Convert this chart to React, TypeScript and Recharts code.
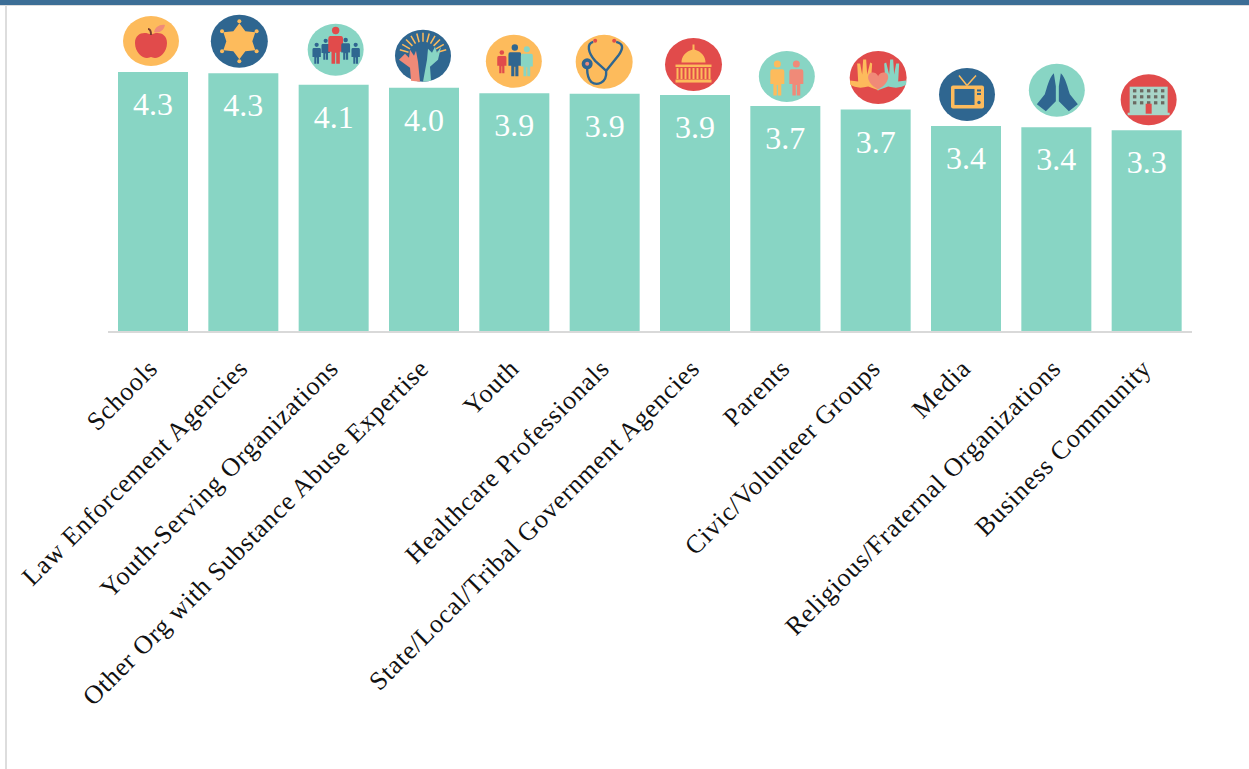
import { Bar, BarChart, LabelList, XAxis, YAxis } from "recharts";

const categories = [
  "Schools",
  "Law Enforcement Agencies",
  "Youth-Serving Organizations",
  "Other Org with Substance Abuse Expertise",
  "Youth",
  "Healthcare Professionals",
  "State/Local/Tribal Government Agencies",
  "Parents",
  "Civic/Volunteer Groups",
  "Media",
  "Religious/Fraternal Organizations",
  "Business Community",
];
const scores = [4.29, 4.27, 4.08, 4.03, 3.94, 3.93, 3.91, 3.73, 3.67, 3.4, 3.38, 3.33];

const rows = categories.map((name, i) => ({ name, score: scores[i] }));

const BLUE = "#2f6690";
const TEAL = "#88d5c4";
const ORANGE = "#fdbb5c";
const RED = "#e14b4b";
const SALMON = "#f08a78";
const FONT = "'Liberation Serif', serif";

/** Simple standing figure, feet at y, h tall. */
function Person({ x, y, h, fill }: { x: number; y: number; h: number; fill: string }) {
  const s = h / 40;
  return (
    <g transform={`translate(${x} ${y}) scale(${s})`} fill={fill}>
      <circle cx={0} cy={-36} r={4} />
      <path d="M-6,-30 H6 Q8,-30 8,-27 V-13 H4.5 V0 H0.6 V-12 H-0.6 V0 H-4.5 V-13 H-8 V-27 Q-8,-30 -6,-30 Z" />
    </g>
  );
}

function Apple() {
  return (
    <g>
      <ellipse rx={28} ry={25} fill={ORANGE} />
      <path d="M0,-6 C-6,-10 -16,-8 -16,2 C-16,11 -9,17 -4,17 C-2,17 -1,16 0,16 C1,16 2,17 4,17 C9,17 16,11 16,2 C16,-8 6,-10 0,-6 Z" fill={RED} />
      <path d="M0,-6 C0,-9 -1,-12 -3,-12" stroke="#7a3b2e" strokeWidth={2} fill="none" />
      <path d="M3,-9 C4,-14 9,-17 14,-16 C13,-11 8,-7 3,-9 Z" fill={SALMON} />
    </g>
  );
}

function Star() {
  const tips = [[0, -20], [17.3, -10], [17.3, 10], [0, 20], [-17.3, 10], [-17.3, -10]];
  return (
    <g>
      <ellipse rx={28.5} ry={26.5} fill={BLUE} />
      <polygon
        points="0,-18 6,-10 16,-9 13,0 16,9 6,10 0,18 -6,10 -16,9 -13,0 -16,-9 -6,-10"
        fill={ORANGE}
      />
      {tips.map(([x, y], i) => (
        <circle key={i} cx={x} cy={y} r={2} fill={ORANGE} />
      ))}
    </g>
  );
}

function Crowd() {
  return (
    <g>
      <ellipse rx={28} ry={26} fill={TEAL} />
      <Person x={-19} y={14} h={21} fill={BLUE} />
      <Person x={-10} y={10} h={21} fill={BLUE} />
      <Person x={0} y={14} h={37} fill={RED} />
      <Person x={10} y={10} h={22} fill={BLUE} />
      <Person x={20} y={14} h={21} fill={BLUE} />
    </g>
  );
}

function SunHands() {
  const rays = [-165, -150, -135, -120, -105, -90, -75, -60, -45, -30, -15];
  return (
    <g>
      <ellipse rx={28} ry={26} fill={BLUE} />
      {rays.map((a) => {
        const c = Math.cos((a * Math.PI) / 180);
        const n = Math.sin((a * Math.PI) / 180);
        return <line key={a} x1={c * 15} y1={n * 14} x2={c * 24} y2={n * 23} stroke={ORANGE} strokeWidth={1.5} />;
      })}
      <path d="M-24,4 L-18,-2 L-14,2 L-13,-6 L-9,0 L-7,-5 L-5,6 L-3,26 L-12,25 L-13,12 Z" fill={SALMON} />
      <path d="M18,-9 L14,-3 L12,-9 L9,-3 L5,-7 L4,4 L0,26 L8,25 L7,11 L15,4 Z" fill={TEAL} />
    </g>
  );
}

function Family() {
  return (
    <g>
      <ellipse rx={28} ry={26.5} fill={ORANGE} />
      <Person x={-12} y={12} h={23} fill={RED} />
      <Person x={1} y={15} h={32} fill={BLUE} />
      <Person x={13} y={15} h={30} fill={TEAL} />
    </g>
  );
}

function Stethoscope() {
  return (
    <g>
      <ellipse rx={28.5} ry={27} fill={ORANGE} />
      <path
        d="M-11,-20 C-18,-18 -16,-9 -9,-1 L2,9 L14,-6 C19,-13 20,-18 12,-20 M2,9 C3,22 -8,24 -13,20 C-17,16 -17,11 -17,7"
        fill="none"
        stroke={BLUE}
        strokeWidth={2.4}
      />
      <circle cx={-17} cy={2} r={5.5} fill={BLUE} />
      <circle cx={-17} cy={2} r={2} fill={SALMON} />
      <circle cx={-9} cy={-21} r={2} fill={RED} />
      <circle cx={10} cy={-21} r={2} fill={RED} />
    </g>
  );
}

function Capitol() {
  const cols = [-16, -12, -8, -4, 0, 4, 8, 12, 16];
  return (
    <g fill={ORANGE}>
      <ellipse rx={28.5} ry={26.5} fill={RED} />
      <path d="M-1,-20 H1 V-15 C8,-13 12,-8 12,-2 H-12 C-12,-8 -8,-13 -1,-15 Z" />
      <rect x={-18} y={0} width={36} height={2.5} />
      {cols.map((x) => (
        <rect key={x} x={x - 1} y={3.5} width={2} height={11} />
      ))}
      <rect x={-18} y={15} width={36} height={3} />
    </g>
  );
}

function Parents() {
  return (
    <g>
      <ellipse rx={28} ry={25.5} fill={TEAL} />
      <Person x={-9.5} y={19} h={35} fill={ORANGE} />
      <Person x={9.5} y={19} h={35} fill={SALMON} />
    </g>
  );
}

function HeartHands() {
  return (
    <g>
      <ellipse rx={28.5} ry={26.5} fill={RED} />
      <path d="M-28,3 L-20,4 L-21,-14 L-18,-14 L-16,-3 L-15,-18 L-12,-18 L-11,-3 L-8,-15 L-6,-14 L-7,1 L-2,8 L1,13 L-10,9 C-18,11 -24,10 -28,7 Z" fill={ORANGE} />
      <path d="M28,3 L20,4 L21,-14 L18,-14 L16,-3 L15,-18 L12,-18 L11,-3 L8,-15 L6,-14 L7,1 L2,8 L-1,13 L10,9 C18,11 24,10 28,7 Z" fill={TEAL} />
      <path d="M0,12 C-14,4 -11,-6 -5,-5 C-2,-5 0,-2 0,-1 C0,-2 2,-5 5,-5 C11,-6 14,4 0,12 Z" fill={SALMON} />
    </g>
  );
}

function Television() {
  return (
    <g>
      <ellipse rx={28} ry={26.5} fill={BLUE} />
      <path d="M0,-9 L-8,-19 M0,-9 L9,-19" stroke={ORANGE} strokeWidth={1.5} />
      <rect x={-16} y={-9} width={33} height={23} rx={2} fill={ORANGE} />
      <rect x={-12.5} y={-5.5} width={20} height={16} fill={BLUE} />
      <rect x={10} y={-5} width={4} height={2} fill={BLUE} />
      <rect x={10} y={-1.5} width={4} height={2} fill={BLUE} />
      <circle cx={12} cy={8} r={1.7} fill={BLUE} />
    </g>
  );
}

function PrayingHands() {
  return (
    <g>
      <ellipse rx={28} ry={26.5} fill={TEAL} />
      <path d="M-3,-17 C-8,-12 -10,-2 -12,4 L-20,14 L-11,21 L-1,11 L-1,-4 Z" fill={BLUE} />
      <path d="M4,-17 C9,-12 11,-2 13,4 L21,14 L12,21 L2,11 L2,-4 Z" fill={BLUE} />
    </g>
  );
}

function Building() {
  const xs = [-14, -7, 0, 7, 14];
  const ys = [-9, -3, 3];
  return (
    <g>
      <ellipse rx={28} ry={25.5} fill={RED} />
      <rect x={-19} y={-13} width={38} height={27} fill="#a8d5c8" />
      <rect x={-21} y={13} width={42} height={2.5} fill="#a8d5c8" />
      {ys.map((y) =>
        xs.map((x) => <rect key={`${x}${y}`} x={x - 1.7} y={y - 1.5} width={3.4} height={3.2} fill="#6b6a62" />),
      )}
      <rect x={-3} y={4} width={6} height={10} fill={RED} />
    </g>
  );
}

const icons = [
  Apple, Star, Crowd, SunHands, Family, Stethoscope,
  Capitol, Parents, HeartHands, Television, PrayingHands, Building,
];
// how far each icon sits from the top-centre of its bar
const iconDx = [-2, -4, 2, -1, -0.5, -0.5, -1.5, 1.5, 2.5, 1, 0.5, 2];
const iconDy = [31, 32, 35, 32, 32, 32, 30.5, 29.5, 32, 31.5, 37, 30.5];

function BarIcon({ x, y, width, index }: any) {
  const Icon = icons[index];
  return (
    <g transform={`translate(${x + width / 2 + iconDx[index]} ${y - iconDy[index]})`}>
      <Icon />
    </g>
  );
}

function ValueLabel({ x, y, width, value }: any) {
  return (
    <text x={x + width / 2} y={y + 43} textAnchor="middle" fill="#fff" fontSize={32} fontFamily={FONT}>
      {Number(value).toFixed(1)}
    </text>
  );
}

function SlantTick({ x, y, payload }: any) {
  return (
    <text
      x={x + 6}
      y={y + 30}
      transform={`rotate(-45 ${x + 6} ${y + 30})`}
      textAnchor="end"
      fill="#111"
      fontSize={26}
      letterSpacing={0.75}
      fontFamily={FONT}
    >
      {payload.value}
    </text>
  );
}

export default function App() {
  return (
    <div style={{ position: "absolute", left: 0, top: 0, width: 1249, height: 769, background: "#fff", overflow: "hidden" }}>
      <div style={{ position: "absolute", left: 0, top: 0, width: 1249, height: 5, background: "#3c6e96", borderBottom: "1px solid #ddd" }} />
      <div style={{ position: "absolute", left: 5, top: 5, width: 2, height: 764, background: "#ddd" }} />
      <BarChart
        width={1249}
        height={769}
        data={rows}
        margin={{ top: 29, right: 57, bottom: 7, left: 108 }}
        barSize={70}
        style={{ position: "absolute", left: 0, top: 0 }}
      >
        <YAxis hide domain={[0, 5]} />
        <XAxis
          dataKey="name"
          interval={0}
          height={430}
          tickLine={false}
          axisLine={{ stroke: "#d9d9d9", strokeWidth: 2 }}
          tick={<SlantTick />}
        />
        <Bar dataKey="score" fill={TEAL} isAnimationActive={false}>
          <LabelList dataKey="score" content={<ValueLabel />} />
          <LabelList dataKey="score" content={<BarIcon />} />
        </Bar>
      </BarChart>
    </div>
  );
}
